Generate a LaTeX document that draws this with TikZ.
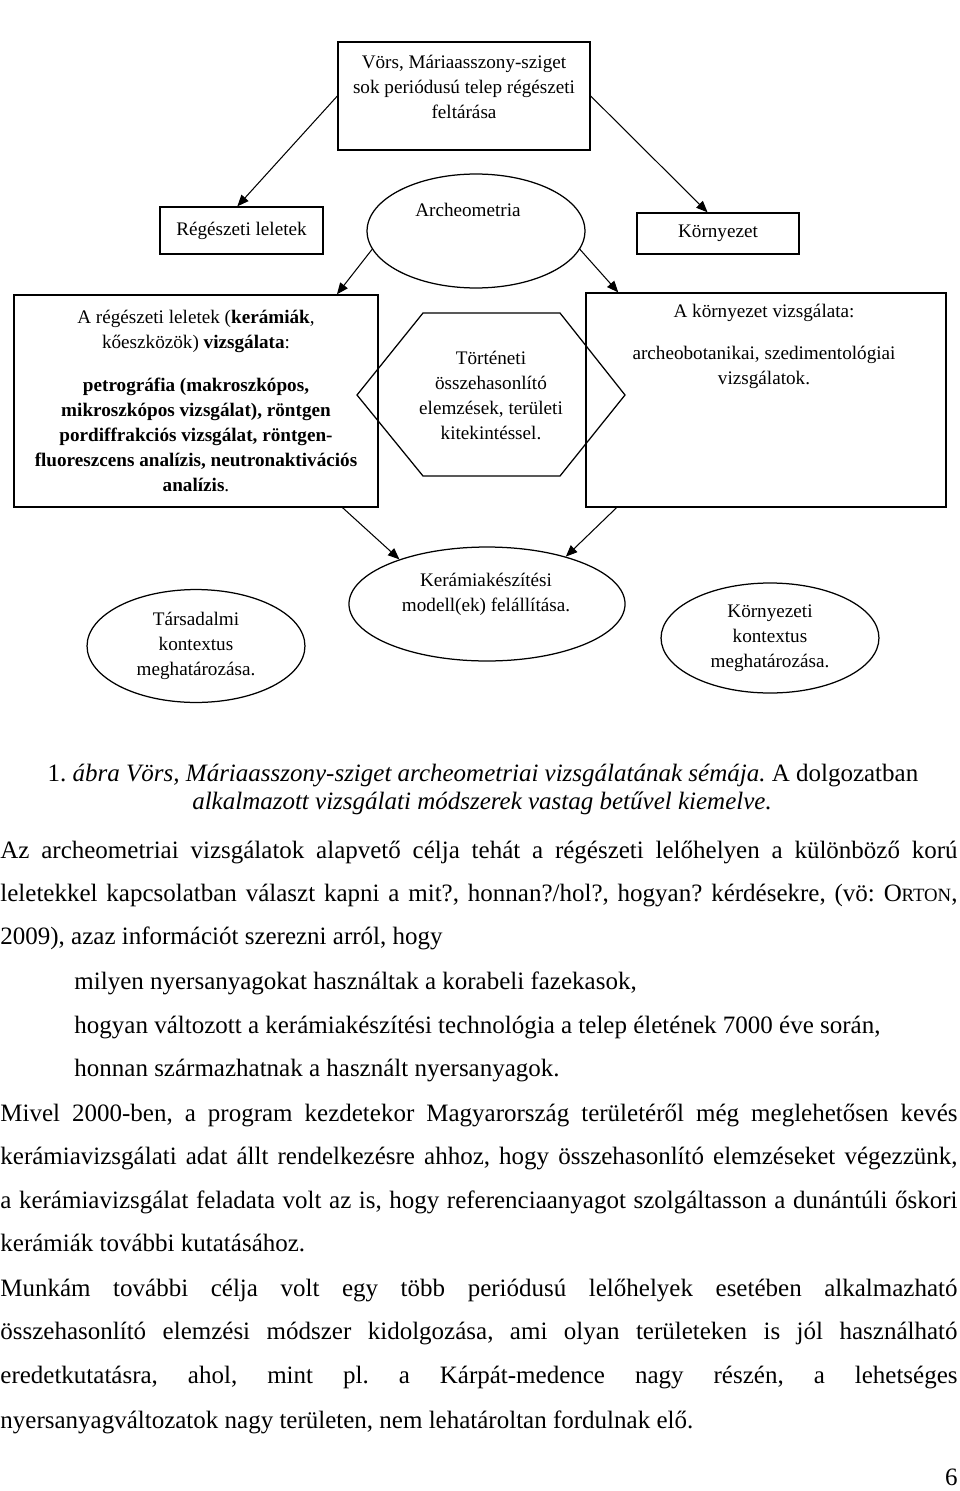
\documentclass[tikz,border=0pt]{standalone}
\usepackage{fontspec}
\setmainfont{Liberation Serif}
\usepackage{tikz}
\usetikzlibrary{shapes.geometric, arrows.meta, positioning}
\frenchspacing
\newcommand\dfont{\fontsize{9.2}{12}\selectfont}
\newcommand\bodyfont{\fontsize{12}{14}\selectfont}
\newcommand\scfont{\fontsize{9}{10}\selectfont}
\newcommand\fullline[1]{\makebox[459.4pt][s]{#1}}
\tikzstyle{box} = [rectangle, draw, line width=0.6pt, inner sep=0pt, align=center, font=\dfont]
\tikzstyle{oval} = [ellipse, draw, line width=0.6pt, inner sep=0pt, align=center, font=\dfont]
\tikzstyle{boxtext} = [inner sep=0pt, align=center, font=\dfont]
\tikzstyle{bodyline} = [inner sep=0pt, anchor=base west, font=\bodyfont]
\tikzstyle{arrow} = [line width=0.5pt, -{Triangle[length=5.5pt, width=4.5pt]}]

\begin{document}
\begin{tikzpicture}[x=0.48pt, y=-0.48pt]
    \useasboundingbox (0,0) rectangle (960,1491);

    % diagram
    \node[box, minimum width=121pt, minimum height=51.8pt] (site) at (464,96) {};
    \node[boxtext] (sitetxt) at (464,87) {Vörs, Máriaasszony-sziget\\ sok periódusú telep régészeti\\ feltárása};
    \node[box, minimum width=78.2pt, minimum height=22.6pt] (finds) at (241.5,230.5) {Régészeti leletek};
    \node[box, minimum width=77.8pt, minimum height=19.7pt] (env) at (718,233.5) {Környezet};
    \node[oval, minimum width=104.6pt, minimum height=54.7pt] (arch) at (476,231) {};
    \node[boxtext] (archtxt) at (468,210) {Archeometria};

    \node[box, minimum width=174.7pt, minimum height=101.8pt] (lab) at (196,401)
        {A régészeti leletek (\textbf{kerámiák},\\ kőeszközök) \textbf{vizsgálata}:\\[8.6pt]
         \textbf{petrográfia (makroszkópos,}\\ \textbf{mikroszkópos vizsgálat), röntgen}\\
         \textbf{pordiffrakciós vizsgálat, röntgen-}\\ \textbf{fluoreszcens analízis, neutronaktivációs}\\
         \textbf{analízis}.};
    \node[box, minimum width=172.8pt, minimum height=102.7pt] (field) at (766,400) {};
    \node[boxtext] (fieldtxt) at (764,346.5) {A környezet vizsgálata:\\[8pt] archeobotanikai, szedimentológiai\\ vizsgálatok.};
    \draw[line width=0.6pt] (423,313) -- (560,313) -- (625,395) -- (560,476) -- (423,476) -- (357,395) -- cycle;
    \node[boxtext] (hist) at (491,395.5) {Történeti\\ összehasonlító\\ elemzések, területi\\ kitekintéssel.};

    \node[oval, minimum width=132.5pt, minimum height=54.7pt] (model) at (487,604) {};
    \node[boxtext] (modeltxt) at (486,594) {Kerámiakészítési\\ modell(ek) felállítása.};
    \node[oval, minimum width=104.6pt, minimum height=54.2pt] (social) at (196,646) {Társadalmi\\ kontextus\\ meghatározása.};
    \node[oval, minimum width=104.6pt, minimum height=52.8pt] (envctx) at (770,638) {Környezeti\\ kontextus\\ meghatározása.};

    \draw[arrow] (site.west) -- ([xshift=-2pt]finds.north);
    \draw[arrow] (site.east) -- ([xshift=-5pt]env.north);
    \draw[arrow] (arch.190) -- ([xshift=-20pt]lab.north east);
    \draw[arrow] (arch.-10) -- ([xshift=15.8pt]field.north west);
    \draw[arrow] ([xshift=-17.3pt]lab.south east) -- (model.153);
    \draw[arrow] ([xshift=15pt]field.south west) -- (model.31);

    % caption
    \node[inner sep=0pt, anchor=base, font=\bodyfont] (cap1) at (483,781) {1. \textit{ábra Vörs, Máriaasszony-sziget archeometriai vizsgálatának sémája.} A dolgozatban};
    \node[inner sep=0pt, anchor=base, font=\bodyfont] (cap2) at (482,809) {\textit{alkalmazott vizsgálati módszerek vastag betűvel kiemelve.}};

    % text
    \node[bodyline] (l1) at (0,858) {\fullline{Az archeometriai vizsgálatok alapvető célja tehát a régészeti lelőhelyen a különböző korú}};
    \node[bodyline] (l2) at (0,901) {\fullline{leletekkel kapcsolatban választ kapni a mit?, honnan?/hol?, hogyan? kérdésekre, (vö: O{\scfont RTON},}};
    \node[bodyline] (l3) at (0,944) {2009), azaz információt szerezni arról, hogy};
    \node[bodyline] (l4) at (74,989) {milyen nyersanyagokat használtak a korabeli fazekasok,};
    \node[bodyline] (l5) at (74,1033) {hogyan változott a kerámiakészítési technológia a telep életének 7000 éve során,};
    \node[bodyline] (l6) at (74,1076) {honnan származhatnak a használt nyersanyagok.};
    \node[bodyline] (l7) at (0,1121) {\fullline{Mivel 2000-ben, a program kezdetekor Magyarország területéről még meglehetősen kevés}};
    \node[bodyline] (l8) at (0,1164) {\fullline{kerámiavizsgálati adat állt rendelkezésre ahhoz, hogy összehasonlító elemzéseket végezzünk,}};
    \node[bodyline] (l9) at (0,1208) {\fullline{a kerámiavizsgálat feladata volt az is, hogy referenciaanyagot szolgáltasson a dunántúli őskori}};
    \node[bodyline] (l10) at (0,1251) {kerámiák további kutatásához.};
    \node[bodyline] (l11) at (0,1296) {\fullline{Munkám további célja volt egy több periódusú lelőhelyek esetében alkalmazható}};
    \node[bodyline] (l12) at (0,1339) {\fullline{összehasonlító elemzési módszer kidolgozása, ami olyan területeken is jól használható}};
    \node[bodyline] (l13) at (0,1383) {\fullline{eredetkutatásra, ahol, mint pl. a Kárpát-medence nagy részén, a lehetséges}};
    \node[bodyline] (l14) at (0,1428) {nyersanyagváltozatok nagy területen, nem lehatároltan fordulnak elő.};
    \node[bodyline, anchor=base east] (page) at (958,1485) {6};
\end{tikzpicture}
\end{document}
